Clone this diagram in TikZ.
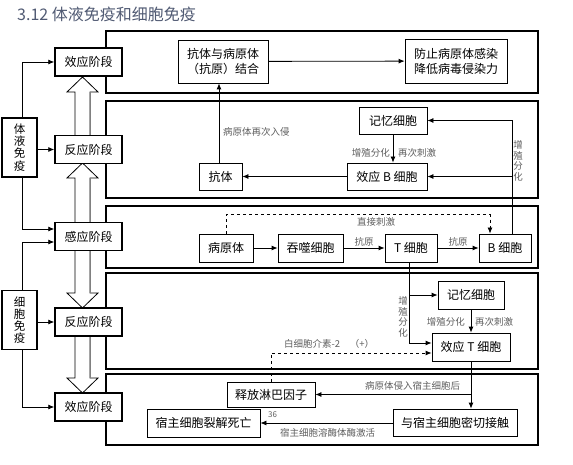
\documentclass[tikz,border=0pt]{standalone}
\usepackage{fontspec}
\setmainfont{Noto Sans CJK SC}
\usetikzlibrary{arrows.meta}
\definecolor{titlecol}{RGB}{80,90,115}
\definecolor{lblcol}{RGB}{95,95,95}
\begin{document}
\begin{tikzpicture}[x=1pt,y=-1pt,
 box/.style={draw,line width=0.8pt,fill=white,inner sep=0pt,font=\fontsize{12}{15}\selectfont},
 stagebox/.style={draw,line width=1.5pt,fill=white,inner sep=0pt,minimum width=67pt,minimum height=28pt,font=\fontsize{12}{14}\selectfont},
 vbox/.style={draw,line width=1.5pt,fill=white,inner sep=0pt,minimum width=35pt,minimum height=59pt,align=center,font=\fontsize{11.5}{12.2}\selectfont},
 panel/.style={draw,line width=1.5pt},
 arr/.style={-{Latex[length=6pt,width=5pt]},line width=0.8pt},
 darr/.style={arr,dashed},
 lbl/.style={font=\fontsize{9.5}{10}\selectfont,text=lblcol,inner sep=0pt},
 vlbl/.style={lbl,align=center,font=\fontsize{9.5}{10.5}\selectfont},
 hollow/.style={fill=white,draw=black,line width=0.8pt}
]
\useasboundingbox (0,0) rectangle (573,465);
\fill[white] (0,0) rectangle (573,465);

% title
\node[anchor=west,inner sep=0pt,font=\fontsize{16}{18}\selectfont,text=titlecol] (title) at (17,14) {3.12 体液免疫和细胞免疫};

% panels
\draw[panel] (106,31) rectangle (538,93);
\draw[panel] (106,101) rectangle (538,198);
\draw[panel] (106,206) rectangle (538,268);
\draw[panel] (106,273) rectangle (538,369);
\draw[panel] (106,374) rectangle (538,445);

% hollow arrows between stages
\filldraw[hollow] (75,136) -- (75,92) -- (67,92) -- (82.5,77) -- (98,92) -- (90,92) -- (90,136);
\draw[gray,line width=1pt] (90,92) -- (90,136);
\filldraw[hollow] (75,223) -- (75,178) -- (67,178) -- (82.5,163) -- (98,178) -- (90,178) -- (90,223);
\draw[gray,line width=1pt] (90,178) -- (90,223);
\filldraw[hollow] (75,250) -- (75,293) -- (67,293) -- (82.5,308) -- (98,293) -- (90,293) -- (90,250);
\draw[gray,line width=1pt] (90,250) -- (90,293);
\filldraw[hollow] (75,336) -- (75,378) -- (67,378) -- (82.5,393) -- (98,378) -- (90,378) -- (90,336);
\draw[gray,line width=1pt] (90,336) -- (90,378);

% left column
\node[vbox] (tiye) at (19.5,147.5) {体\\液\\免\\疫};
\node[vbox] (xibao) at (19.5,320) {细\\胞\\免\\疫};
\node[stagebox] (e1) at (88.5,62) {效应阶段};
\node[stagebox] (r1) at (88.5,149.5) {反应阶段};
\node[stagebox] (g) at (88.5,236.5) {感应阶段};
\node[stagebox] (r2) at (88.5,322) {反应阶段};
\node[stagebox] (e2) at (88.5,407) {效应阶段};

\draw[arr] ([xshift=2.5pt]tiye.north) |- (e1.west);
\draw[arr] (tiye.east |- r1.west) -- (r1.west);
\draw[arr] ([xshift=2.5pt]tiye.south) |- ([yshift=7.5pt]g.west);
\draw[arr] ([xshift=2.5pt]xibao.north) |- ([yshift=-5.5pt]g.west);
\draw[arr] (xibao.east |- r2.west) -- (r2.west);
\draw[arr] ([xshift=2.5pt]xibao.south) |- (e2.west);

% panel 1
\node[box,minimum width=90pt,minimum height=43pt,align=center] (kt) at (223,61.5) {抗体与病原体\\（抗原）结合};
\node[box,minimum width=102pt,minimum height=44pt,align=left] (fz) at (456,61) {防止病原体感染\\降低病毒侵染力};
\draw[arr] (kt) -- (fz);

% panel 2
\node[box,minimum width=68pt,minimum height=27pt] (jyB) at (393,120.5) {记忆细胞};
\node[box,minimum width=80pt,minimum height=27pt] (xyB) at (387,176.5) {效应 B 细胞};
\node[box,minimum width=43pt,minimum height=27pt] (kt2) at (220.5,176.5) {抗体};
\draw[arr] (xyB) -- (kt2);
\draw[arr] ([xshift=-1.5pt]kt2.north) -- ([xshift=-1.5pt]kt2.north |- kt.south);
\draw[arr] (jyB.south) -- (jyB.south |- xyB.north);
\node[lbl,anchor=west] (l1) at (223,132) {病原体再次入侵};
\node[lbl,anchor=east] (l2) at (390,153) {增殖分化};
\node[lbl,anchor=west] (l3) at (398,153) {再次刺激};
\node[vlbl] (l4) at (518,161) {增\\殖\\分\\化};

% panel 3
\node[box,minimum width=54pt,minimum height=28pt] (byt) at (226,248) {病原体};
\node[box,minimum width=65pt,minimum height=28pt] (tsc) at (310.5,248) {吞噬细胞};
\node[box,minimum width=52pt,minimum height=28pt] (T) at (411,248) {T 细胞};
\node[box,minimum width=52pt,minimum height=28pt] (B) at (505,248) {B 细胞};
\draw[arr] (byt) -- (tsc);
\draw[arr] (tsc) -- node[lbl,above=1.5pt] (l5) {抗原} (T);
\draw[arr] (T) -- node[lbl,above=1.5pt] (l6) {抗原} (B);
\draw[darr] (byt.north) -- ++(0,-19) -| ([xshift=-15pt]B.north);
\node[lbl] (l7) at (376,222) {直接刺激};
\draw[arr] ([xshift=7pt]B.north) |- (jyB.east);
\draw[arr] ([xshift=7pt]B.north) |- (xyB.east);

% panel 4
\node[box,minimum width=66pt,minimum height=28pt] (jyT) at (471,295) {记忆细胞};
\node[box,minimum width=78pt,minimum height=28pt] (xyT) at (471,347) {效应 T 细胞};
\draw[arr] ([xshift=-2pt]T.south) |- (jyT.west);
\draw[arr] ([xshift=-2pt]T.south) |- ([yshift=4pt]xyT.west);
\draw[arr] (jyT.south) -- (xyT.north);
\node[vlbl] (l8) at (403,317) {增\\殖\\分\\化};
\node[lbl,anchor=east] (l9) at (465,322) {增殖分化};
\node[lbl,anchor=west] (l10) at (475,322) {再次刺激};
\node[lbl,anchor=west] (l11) at (284,344) {白细胞介素-2\quad （+）};

% panel 5
\node[box,minimum width=88pt,minimum height=25pt] (sf) at (271,394.5) {释放淋巴因子};
\node[box,minimum width=124pt,minimum height=27pt] (jc) at (455,422.5) {与宿主细胞密切接触};
\node[box,minimum width=113pt,minimum height=28pt] (lj) at (203.5,423) {宿主细胞裂解死亡};
\draw[darr] (sf.north) |- ([yshift=-6pt]xyT.west);
\draw[arr] (xyT.south) -- (xyT.south |- jc.north);
\draw[arr] (xyT.south |- sf.east) -- (sf.east);
\draw[arr] (jc.west |- lj.east) -- (lj.east);
\node[lbl,anchor=west] (l12) at (365,386) {病原体侵入宿主细胞后};
\node[lbl,anchor=west,font=\fontsize{8}{9}\selectfont] (l13) at (268,415) {36};
\node[lbl,anchor=west] (l14) at (280,433) {宿主细胞溶酶体酶激活};
\end{tikzpicture}
\end{document}
